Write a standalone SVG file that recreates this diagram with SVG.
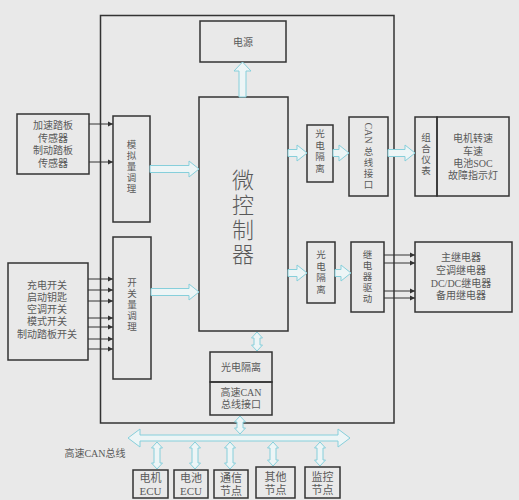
<svg xmlns="http://www.w3.org/2000/svg" width="519" height="500" viewBox="0 0 519 500">
<style>
.bx{fill:none;stroke:#333;stroke-width:1.5}
.t{font-family:"Liberation Serif","Noto Sans CJK SC",serif;font-size:10px;fill:#595959;text-anchor:middle;dominant-baseline:central}
.v{font-size:9.5px}
.big{font-size:22px;font-weight:300}
.b11{font-size:11px}
.ha{fill:#edf5f6;stroke:#86cfdb;stroke-width:1}
.ln{stroke:#333;stroke-width:1;marker-end:url(#ah)}
</style>
<defs>
<marker id="ah" markerWidth="6" markerHeight="6" refX="5" refY="3" orient="auto" markerUnits="userSpaceOnUse"><path d="M0,0.5 L5,3 L0,5.5 Z" fill="#333"/></marker>
</defs>
<rect width="519" height="500" fill="#e9e9e9"/>
<g id="outer"><rect class="bx" x="100.5" y="15.5" width="293.5" height="407.5"/></g>

<g id="power"><rect class="bx" x="200" y="21" width="86" height="41"/><text class="t" x="243" y="42">电源</text></g>
<g id="mcu"><rect class="bx" x="199" y="97" width="89" height="234"/>
<text class="t big" x="243"><tspan x="243" y="180">微</tspan><tspan x="243" y="205">控</tspan><tspan x="243" y="230">制</tspan><tspan x="243" y="254">器</tspan></text></g>

<g id="sensors"><rect class="bx" x="17" y="114" width="72" height="60"/>
<text class="t"><tspan x="53" y="125">加速踏板</tspan><tspan x="53" y="138">传感器</tspan><tspan x="53" y="150">制动踏板</tspan><tspan x="53" y="163">传感器</tspan></text></g>

<g id="analog"><rect class="bx" x="113" y="116" width="37" height="106"/>
<text class="t v"><tspan x="131.5" y="145">模</tspan><tspan x="131.5" y="156">拟</tspan><tspan x="131.5" y="167">量</tspan><tspan x="131.5" y="178">调</tspan><tspan x="131.5" y="189">理</tspan></text></g>

<g id="switches"><rect class="bx" x="8" y="263" width="80" height="97"/>
<text class="t"><tspan x="47" y="285">充电开关</tspan><tspan x="47" y="297">启动钥匙</tspan><tspan x="47" y="309">空调开关</tspan><tspan x="47" y="321">模式开关</tspan><tspan x="47" y="334">制动踏板开关</tspan></text></g>

<g id="digital"><rect class="bx" x="113" y="237" width="38" height="142"/>
<text class="t v"><tspan x="132" y="283">开</tspan><tspan x="132" y="294">关</tspan><tspan x="132" y="305">量</tspan><tspan x="132" y="316">调</tspan><tspan x="132" y="327">理</tspan></text></g>

<g id="iso1"><rect class="bx" x="307" y="125" width="26" height="57"/>
<text class="t v"><tspan x="320" y="134">光</tspan><tspan x="320" y="145.5">电</tspan><tspan x="320" y="157">隔</tspan><tspan x="320" y="168.5">离</tspan></text></g>

<g id="can"><rect class="bx" x="349" y="117" width="39" height="79"/>
<text class="t" transform="translate(368.5,133) rotate(90)" x="0" y="0">CAN</text>
<text class="t v"><tspan x="368.5" y="152">总</tspan><tspan x="368.5" y="163">线</tspan><tspan x="368.5" y="174">接</tspan><tspan x="368.5" y="185">口</tspan></text></g>

<g id="dash"><rect class="bx" x="415" y="117" width="22" height="79"/>
<text class="t v"><tspan x="426" y="138">组</tspan><tspan x="426" y="149">合</tspan><tspan x="426" y="160">仪</tspan><tspan x="426" y="171">表</tspan></text></g>

<g id="display"><rect class="bx" x="437" y="117" width="72" height="79"/>
<text class="t"><tspan x="473" y="138">电机转速</tspan><tspan x="473" y="151">车速</tspan><tspan x="473" y="163">电池SOC</tspan><tspan x="473" y="175">故障指示灯</tspan></text></g>

<g id="iso2"><rect class="bx" x="307" y="242" width="28" height="61"/>
<text class="t v"><tspan x="321" y="255">光</tspan><tspan x="321" y="266.5">电</tspan><tspan x="321" y="278">隔</tspan><tspan x="321" y="289.5">离</tspan></text></g>

<g id="relaydrv"><rect class="bx" x="351" y="242" width="33" height="70"/>
<text class="t v"><tspan x="367.5" y="255">继</tspan><tspan x="367.5" y="266">电</tspan><tspan x="367.5" y="277">器</tspan><tspan x="367.5" y="288">驱</tspan><tspan x="367.5" y="299">动</tspan></text></g>

<g id="relays"><rect class="bx" x="415" y="242" width="97" height="70"/>
<text class="t"><tspan x="461" y="257">主继电器</tspan><tspan x="461" y="270">空调继电器</tspan><tspan x="461" y="283">DC/DC继电器</tspan><tspan x="461" y="295">备用继电器</tspan></text></g>

<g id="iso3"><rect class="bx" x="210" y="352" width="62" height="30"/><text class="t" x="241" y="367">光电隔离</text></g>
<g id="hscan"><rect class="bx" x="210" y="382" width="62" height="33"/>
<text class="t"><tspan x="241" y="392">高速CAN</tspan><tspan x="241" y="404">总线接口</tspan></text></g>

<g id="buslabel"><text class="t" x="95" y="453">高速CAN总线</text></g>

<g id="n1"><rect class="bx" x="133" y="470" width="35" height="28"/><text class="t b11"><tspan x="150.5" y="478">电机</tspan><tspan x="150.5" y="491">ECU</tspan></text></g>
<g id="n2"><rect class="bx" x="174" y="470" width="34" height="28"/><text class="t b11"><tspan x="191" y="478">电池</tspan><tspan x="191" y="491">ECU</tspan></text></g>
<g id="n3"><rect class="bx" x="214" y="470" width="34" height="28"/><text class="t b11"><tspan x="231" y="478">通信</tspan><tspan x="231" y="491">节点</tspan></text></g>
<g id="n4"><rect class="bx" x="256" y="467" width="39" height="31"/><text class="t b11"><tspan x="275.5" y="477">其他</tspan><tspan x="275.5" y="490">节点</tspan></text></g>
<g id="n5"><rect class="bx" x="305" y="467" width="35" height="31"/><text class="t b11"><tspan x="322.5" y="477">监控</tspan><tspan x="322.5" y="490">节点</tspan></text></g>

<g id="connectors">
<path class="ha" d="M242.5,62 L251,71 H246 V97 H239 V71 H234 Z"/>
<path class="ha" d="M150,165.5 H189 V161 L199,169 L189,177 V172.5 H150 Z"/>
<path class="ha" d="M151,288.5 H189 V284 L199,292 L189,300 V295.5 H151 Z"/>
<path class="ha" d="M288,149.5 H297 V145 L307,153 L297,161 V156.5 H288 Z"/>
<path class="ha" d="M333,149.5 H339 V145 L349,153 L339,161 V156.5 H333 Z"/>
<path class="ha" d="M388,149.5 H405 V145 L415,153 L405,161 V156.5 H388 Z"/>
<path class="ha" d="M288,269.5 H297 V265 L307,273 L297,281 V276.5 H288 Z"/>
<path class="ha" d="M335,269.5 H341 V265 L351,273 L341,281 V276.5 H335 Z"/>
<path class="ha" d="M257,332 L262.5,338 H260 V345 H262.5 L257,351 L251.5,345 H254 V338 H251.5 Z"/>
<path class="ha" d="M240,416 L245.5,422 H243 V428 H245.5 L240,434 L234.5,428 H237 V422 H234.5 Z"/>
<path class="ha" d="M128,438 L140,429 V435 H338 V429 L350,438 L338,447 V441 H140 V447 Z"/>
<path class="ha" d="M157,442 L162.5,448 H160 V463 H162.5 L157,469 L151.5,463 H154 V448 H151.5 Z"/>
<path class="ha" d="M195,442 L200.5,448 H198 V463 H200.5 L195,469 L189.5,463 H192 V448 H189.5 Z"/>
<path class="ha" d="M230,442 L235.5,448 H233 V463 H235.5 L230,469 L224.5,463 H227 V448 H224.5 Z"/>
<path class="ha" d="M273,442 L278.5,448 H276 V460 H278.5 L273,466 L267.5,460 H270 V448 H267.5 Z"/>
<path class="ha" d="M320,442 L325.5,448 H323 V460 H325.5 L320,466 L314.5,460 H317 V448 H314.5 Z"/>
<line class="ln" x1="89" y1="124" x2="113" y2="124"/>
<line class="ln" x1="89" y1="162" x2="113" y2="162"/>
<line class="ln" x1="88" y1="279" x2="113" y2="279"/>
<line class="ln" x1="88" y1="290" x2="113" y2="290"/>
<line class="ln" x1="88" y1="301" x2="113" y2="301"/>
<line class="ln" x1="88" y1="318" x2="113" y2="318"/>
<line class="ln" x1="88" y1="327" x2="113" y2="327"/>
<line class="ln" x1="88" y1="339" x2="113" y2="339"/>
<line class="ln" x1="88" y1="349" x2="113" y2="349"/>
<line class="ln" x1="384" y1="255" x2="415" y2="255"/>
<line class="ln" x1="384" y1="263" x2="415" y2="263"/>
<line class="ln" x1="384" y1="291" x2="415" y2="291"/>
<line class="ln" x1="384" y1="298" x2="415" y2="298"/>
</g>
</svg>
